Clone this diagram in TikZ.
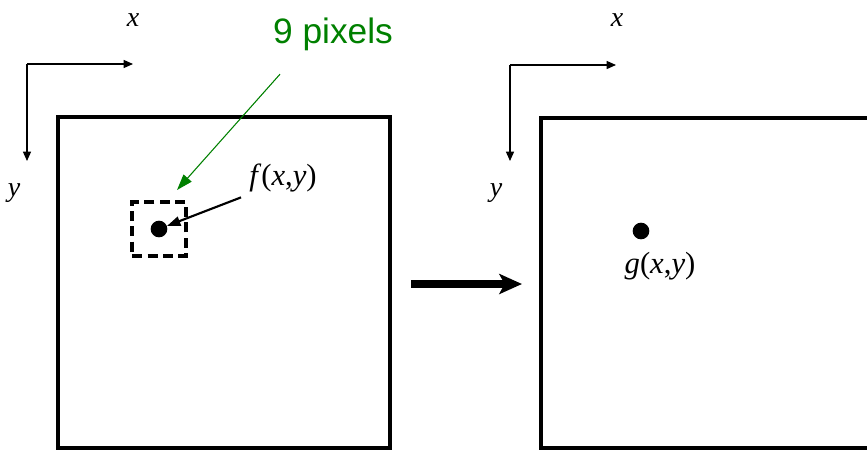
\documentclass[tikz,border=0pt]{standalone}
\usepackage{fontspec}
\setmainfont{Liberation Serif}
\newfontfamily\arialfont{Liberation Sans}
\usepackage{xcolor}
\usetikzlibrary{arrows.meta, positioning, calc}

\definecolor{pixgreen}{RGB}{0,128,0}

\begin{document}
\begin{tikzpicture}[x=0.75pt, y=-0.75pt,
    axis/.style={-{Triangle[length=7pt, width=6pt]}, line width=1pt},
    frame/.style={line width=3pt},
    pixdot/.style={circle, fill=black, inner sep=0pt, minimum size=12.5pt},
    window/.style={draw, dash pattern=on 7.5pt off 4pt, line width=2.8pt, minimum size=40pt, inner sep=0pt},
    varlbl/.style={font=\fontsize{21}{23}\selectfont, inner sep=0pt},
    funlbl/.style={font=\fontsize{23}{25}\selectfont, inner sep=0pt}]
    \useasboundingbox (0,0) rectangle (867,450);

    % input image
    \coordinate (o1) at (27,64);
    \draw[axis] (o1) -- ++(106,0);
    \draw[axis] (o1) -- ++(0,97);
    \node[varlbl] (x1) at (133,20) {\textit{x}};
    \node[varlbl] (y1) at (14,193) {\textit{y}};
    \draw[frame] (58,117) rectangle (390,448);
    \node[window] (win) at (159,229) {};
    \node[pixdot] (fdot) at (159,229) {};
    \node[funlbl] (flbl) at (283,178) {\textit{f}(\textit{x},\textit{y})};
    \draw[-{Triangle[length=10pt, width=7pt]}, line width=1.6pt] ($(flbl.south west)+(-8,5)$) -- (fdot);

    \node[text=pixgreen, font=\arialfont\fontsize{26.5}{28}\selectfont] (pix) at (333,34) {9 pixels};
    \coordinate (gtip) at (177,190);
    \draw[pixgreen, -{Triangle[length=12pt, width=8pt]}, line width=0.8pt] ($(pix.south)+(-53,19)$) -- (gtip);

    % transform
    \coordinate (a1) at (411,284);
    \coordinate (a2) at (522,284);
    \draw[-{Stealth[length=17pt, width=15pt, inset=4pt]}, line width=5.5pt] (a1) -- (a2);

    % output image
    \coordinate (o2) at (510,65);
    \draw[axis] (o2) -- ++(106,0);
    \draw[axis] (o2) -- ++(0,96);
    \node[varlbl] (x2) at (617,20) {\textit{x}};
    \node[varlbl] (y2) at (496,193) {\textit{y}};
    \draw[frame] (541,118) rectangle (900,448);
    \node[pixdot] (gdot) at (641,231) {};
    \node[funlbl, below right=11pt and -17pt of gdot] (glbl) {\textit{g}(\textit{x},\textit{y})};
\end{tikzpicture}
\end{document}
